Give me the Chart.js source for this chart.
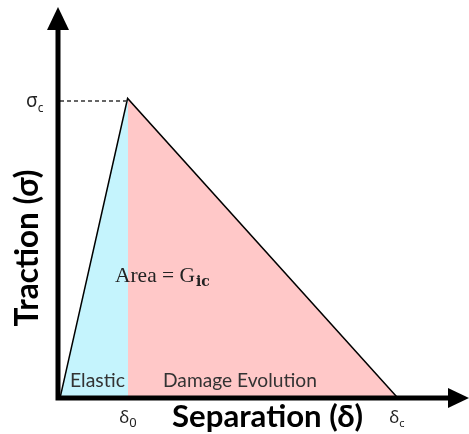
<!DOCTYPE html>
<html>
<head>
<meta charset="utf-8">
<script src="https://cdn.jsdelivr.net/npm/chart.js@4.4.1/dist/chart.umd.min.js"></script>
<style>
html,body{margin:0;padding:0;background:#fff;}
canvas{display:block;}
</style>
</head>
<body>
<canvas id="c" width="469" height="434"></canvas>
<script>
// Schematic bilinear traction-separation law
const separation = [0.04, 1, 4.84];   // start, δ0, δc (in units of δ0)
const traction   = [0, 1, 0];         // 0, σc, 0 (in units of σc)
const xTickValues = [1, 4.84];
const xTickMain   = ['δ', 'δ'];
const xTickSub    = ['0', 'c'];
const yTickValues = [1];
const yTickMain   = ['σ'];
const yTickSub    = ['c'];
const regionLabels = ['Elastic', 'Damage Evolution'];
const areaLabel = ['Area = G', 'ic'];
const xTitle = 'Separation (δ)';
const yTitle = 'Traction (σ)';

const pts = separation.map((x, i) => ({x, y: traction[i]}));

function fitFont(ctx, text, weight, family, width) {
  ctx.font = weight + ' 100px ' + family;
  const w = ctx.measureText(text).width;
  const size = 100 * width / w;
  ctx.font = weight + ' ' + size.toFixed(2) + 'px ' + family;
  return size;
}

const overlay = {
  id: 'overlay',
  afterDatasetsDraw(chart) {
    const ctx = chart.ctx;
    const xs = chart.scales.x, ys = chart.scales.y;
    const x0 = xs.getPixelForValue(0), y0 = ys.getPixelForValue(0);
    const ca = chart.chartArea;
    ctx.save();
    // dashed guide at σc
    const px = xs.getPixelForValue(separation[1]);
    const py = ys.getPixelForValue(traction[1]);
    ctx.strokeStyle = '#333';
    ctx.lineWidth = 1.3;
    ctx.setLineDash([4, 3]);
    ctx.beginPath();
    ctx.moveTo(x0 + 2, py + 1);
    ctx.lineTo(px - 1, py + 1);
    ctx.stroke();
    ctx.setLineDash([]);

    // axes with arrows
    ctx.fillStyle = '#000';
    ctx.strokeStyle = '#000';
    ctx.lineWidth = 5;
    ctx.beginPath();
    ctx.moveTo(x0, y0 + 2.5);
    ctx.lineTo(x0, ca.top + 20);
    ctx.moveTo(x0 - 2.5, y0);
    ctx.lineTo(ca.right - 20, y0);
    ctx.stroke();
    ctx.beginPath();
    ctx.moveTo(x0, ca.top);
    ctx.lineTo(x0 - 11, ca.top + 23);
    ctx.lineTo(x0 + 11, ca.top + 23);
    ctx.closePath();
    ctx.fill();
    ctx.beginPath();
    ctx.moveTo(ca.right + 1, y0);
    ctx.lineTo(ca.right - 20, y0 - 10);
    ctx.lineTo(ca.right - 20, y0 + 10);
    ctx.closePath();
    ctx.fill();

    // tick labels
    ctx.fillStyle = '#222';
    ctx.textBaseline = 'alphabetic';
    ctx.textAlign = 'left';
    xTickValues.forEach((v, i) => {
      const tx = xs.getPixelForValue(v);
      ctx.font = '17px "Noto Sans"';
      const mw = ctx.measureText(xTickMain[i]).width;
      const sub = xTickSub[i];
      ctx.font = (sub === '0' ? '13px' : '11px') + ' "Noto Sans"';
      const sw = ctx.measureText(sub).width;
      const start = tx - (mw + sw) / 2;
      ctx.font = '17px "Noto Sans"';
      ctx.fillText(xTickMain[i], start, y0 + 25);
      ctx.font = (sub === '0' ? '13px' : '11px') + ' "Noto Sans"';
      ctx.fillText(sub, start + mw, y0 + 29);
    });
    yTickValues.forEach((v, i) => {
      const ty = ys.getPixelForValue(v);
      ctx.font = '19px "Noto Sans"';
      const mw = ctx.measureText(yTickMain[i]).width;
      ctx.fillText(yTickMain[i], 26, ty + 7);
      ctx.font = '12px "Noto Sans"';
      ctx.fillText(yTickSub[i], 26 + mw, ty + 12);
    });

    // region labels
    ctx.fillStyle = '#333';
    fitFont(ctx, regionLabels[0], '400', 'Lato', 55);
    ctx.fillText(regionLabels[0], 70, y0 - 11);
    fitFont(ctx, regionLabels[1], '400', 'Lato', 154);
    ctx.fillText(regionLabels[1], 163, y0 - 11);

    // area label
    ctx.fillStyle = '#222';
    fitFont(ctx, areaLabel[0], '400', '"Liberation Serif"', 80);
    ctx.fillText(areaLabel[0], 115, 282);
    const aw = ctx.measureText(areaLabel[0]).width;
    ctx.font = '600 14px "DejaVu Serif"';
    ctx.fillText(areaLabel[1], 115 + aw + 1, 286);

    // axis titles
    ctx.fillStyle = '#000';
    ctx.textAlign = 'center';
    fitFont(ctx, xTitle, '700', 'Lato', 191);
    ctx.fillText(xTitle, 267.5, 427);
    ctx.save();
    ctx.translate(38, 248);
    ctx.rotate(-Math.PI / 2);
    fitFont(ctx, yTitle, '700', 'Lato', 157);
    ctx.fillText(yTitle, 0, 0);
    ctx.restore();

    ctx.restore();
  }
};

new Chart(document.getElementById('c'), {
  type: 'scatter',
  data: {
    datasets: [
      {
        data: pts.slice(0, 2),
        showLine: true,
        fill: 'origin',
        backgroundColor: 'rgb(197,244,253)',
        borderWidth: 0,
        pointRadius: 0,
        tension: 0
      },
      {
        data: pts.slice(1, 3),
        showLine: true,
        fill: 'origin',
        backgroundColor: 'rgb(255,200,200)',
        borderWidth: 0,
        pointRadius: 0,
        tension: 0
      },
      {
        data: pts,
        showLine: true,
        fill: false,
        borderColor: '#000',
        borderWidth: 3,
        pointRadius: 0,
        tension: 0,
        borderJoinStyle: 'miter'
      }
    ]
  },
  options: {
    responsive: false,
    devicePixelRatio: 1,
    animation: false,
    layout: { padding: { left: 58, right: 1, top: 7, bottom: 36 } },
    plugins: { legend: { display: false }, tooltip: { enabled: false } },
    scales: {
      x: { type: 'linear', display: false, min: 0, max: 410 / 70 },
      y: { type: 'linear', display: false, min: 0, max: 391 / 298 }
    }
  },
  plugins: [overlay]
});
</script>
</body>
</html>
